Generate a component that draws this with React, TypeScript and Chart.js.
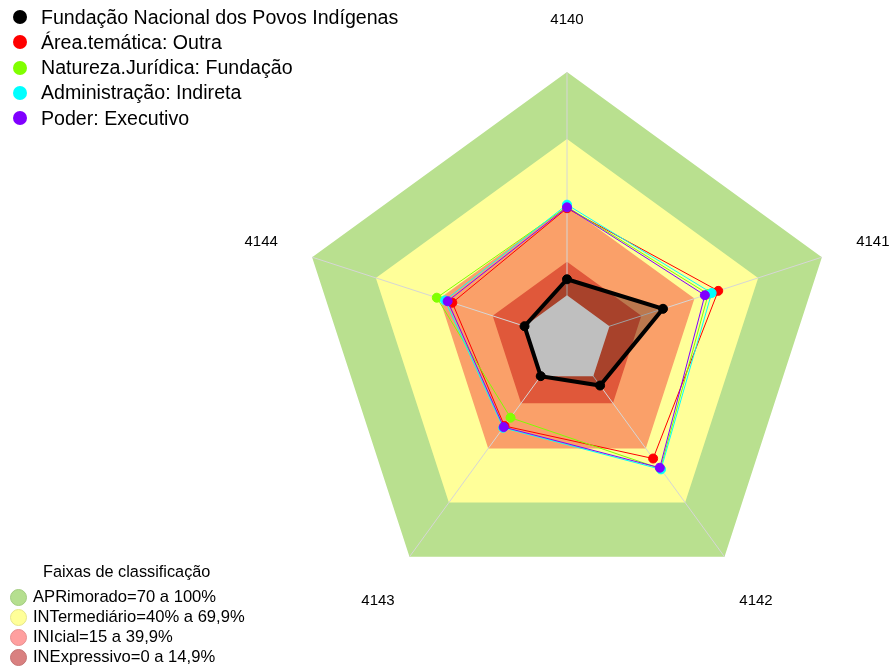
import React, { useEffect, useRef } from "react";
import { Chart, registerables } from "chart.js";
Chart.register(...registerables);

// Axis categories
const axisLabels = ["4140", "4141", "4142", "4143", "4144"];

// Series
const seriesNames = [
  "Fundação Nacional dos Povos Indígenas",
  "Área.temática: Outra",
  "Natureza.Jurídica: Fundação",
  "Administração: Indireta",
  "Poder: Executivo",
];
const fundacao = [7.2, 25.2, 5.2, 0, 0];
const areaTematica = [39.0, 51.2, 45.6, 27.6, 34.0];
const naturezaJuridica = [39.6, 46.5, 51.2, 23.0, 41.3];
const administracao = [40.6, 48.1, 51.6, 28.6, 37.4];
const poder = [39.4, 44.9, 50.7, 28.2, 36.2];
const seriesValues = [fundacao, areaTematica, naturezaJuridica, administracao, poder];
const seriesColors = ["#000000", "#FF0000", "#80FF00", "#00FFFF", "#8000FF"];

// Classification bands
const legendTitle = "Faixas de classificação";
const bandNames = [
  "APRimorado=70 a 100%",
  "INTermediário=40% a 69,9%",
  "INIcial=15 a 39,9%",
  "INExpressivo=0 a 14,9%",
];
const bandUpper = [100, 70, 40, 15, 0];
const bandFill = ["#B9E08F", "#FFFF99", "#FAA069", "#E0583A", "#FFFFFF"];
const bandLegendColors = ["#B5DF8F", "#FFFF99", "#FF9F9F", "#D98080"];
const bandLegendBorders = ["#A3CC80", "#E6E68A", "#E68F8F", "#C47373"];

const scaleMin = -20;
const scaleMax = 100;

const FONT = '"Liberation Sans", Arial, sans-serif';

const overlayPlugin = {
  id: "overlay",
  afterDatasetDraw(chart: any, args: any) {
    const ds = chart.data.datasets[args.index];
    if (!ds || !ds._spokesAfter) return;
    const scale = chart.scales.r;
    const ctx = chart.ctx;
    ctx.save();
    ctx.strokeStyle = "#D6D6D6";
    ctx.lineWidth = 1;
    for (let i = 0; i < axisLabels.length; i++) {
      const p = scale.getPointPositionForValue(i, scaleMax);
      ctx.beginPath();
      ctx.moveTo(scale.xCenter, scale.yCenter);
      ctx.lineTo(p.x, p.y);
      ctx.stroke();
    }
    ctx.restore();
  },
  afterDraw(chart: any) {
    const scale = chart.scales.r;
    const ctx = chart.ctx;
    ctx.save();
    ctx.fillStyle = "#000000";
    ctx.font = "15px " + FONT;
    ctx.textAlign = "center";
    ctx.textBaseline = "middle";
    for (let i = 0; i < axisLabels.length; i++) {
      const p = scale.getPointPosition(i, scale.drawingArea * 1.2);
      ctx.fillText(axisLabels[i], p.x, p.y + 1);
    }
    ctx.restore();
  },
};

export default function App() {
  const canvasRef = useRef<HTMLCanvasElement | null>(null);

  useEffect(() => {
    if (!canvasRef.current) return;
    const bandDatasets = bandUpper.map((v, i) => ({
      label: "band" + i,
      data: axisLabels.map(() => v),
      backgroundColor: bandFill[i],
      borderColor: "rgba(0,0,0,0)",
      borderWidth: 0,
      fill: "start",
      pointRadius: 0,
      order: 20 - i,
      _spokesAfter: i === bandUpper.length - 2,
    }));
    const seriesDatasets = seriesValues.map((vals, i) => ({
      label: seriesNames[i],
      data: vals,
      borderColor: seriesColors[i],
      backgroundColor: i === 0 ? "rgba(0,0,0,0.25)" : "rgba(0,0,0,0)",
      borderWidth: i === 0 ? 4 : 1,
      fill: i === 0 ? "start" : false,
      pointRadius: 4.5,
      pointBackgroundColor: seriesColors[i],
      pointBorderColor: seriesColors[i],
      pointBorderWidth: 1,
      order: 5 - i,
    }));
    const chart = new Chart(canvasRef.current, {
      type: "radar",
      data: {
        labels: axisLabels,
        datasets: [...seriesDatasets, ...bandDatasets] as any,
      },
      options: {
        animation: false,
        responsive: true,
        maintainAspectRatio: false,
        layout: { padding: { left: 299, right: 57, top: 72, bottom: 60 } },
        elements: { line: { tension: 0 } },
        plugins: {
          legend: { display: false },
          tooltip: { enabled: false },
        },
        scales: {
          r: {
            min: scaleMin,
            max: scaleMax,
            ticks: { display: false },
            grid: { display: false },
            angleLines: { display: false },
            pointLabels: { display: false },
          },
        },
      },
      plugins: [overlayPlugin],
    });
    return () => chart.destroy();
  }, []);

  return (
    <div style={{ position: "fixed", left: 0, top: 0, width: 892, height: 668, background: "#FFFFFF", fontFamily: FONT }}>
      <canvas ref={canvasRef} />
      {seriesNames.map((n, i) => (
        <div
          key={n}
          style={{
            position: "absolute",
            left: 13,
            top: 17 + i * 25.3 - 12,
            height: 24,
            display: "flex",
            alignItems: "center",
            whiteSpace: "nowrap",
          }}
        >
          <span style={{ width: 14, height: 14, borderRadius: "50%", background: seriesColors[i], display: "inline-block" }} />
          <span style={{ marginLeft: 14, fontSize: 19.6, color: "#000" }}>{n}</span>
        </div>
      ))}
      <div
        style={{
          position: "absolute",
          left: 43,
          top: 571 - 10,
          height: 20,
          display: "flex",
          alignItems: "center",
          fontSize: 16.3,
          whiteSpace: "nowrap",
          color: "#000",
        }}
      >
        {legendTitle}
      </div>
      {bandNames.map((n, i) => (
        <div
          key={n}
          style={{
            position: "absolute",
            left: 10,
            top: 597 + i * 20 - 10,
            height: 20,
            display: "flex",
            alignItems: "center",
            whiteSpace: "nowrap",
          }}
        >
          <span
            style={{
              width: 15,
              height: 15,
              borderRadius: "50%",
              background: bandLegendColors[i],
              border: "1px solid " + bandLegendBorders[i],
              display: "inline-block",
            }}
          />
          <span style={{ marginLeft: 6, fontSize: 16.6, color: "#000" }}>{n}</span>
        </div>
      ))}
    </div>
  );
}
